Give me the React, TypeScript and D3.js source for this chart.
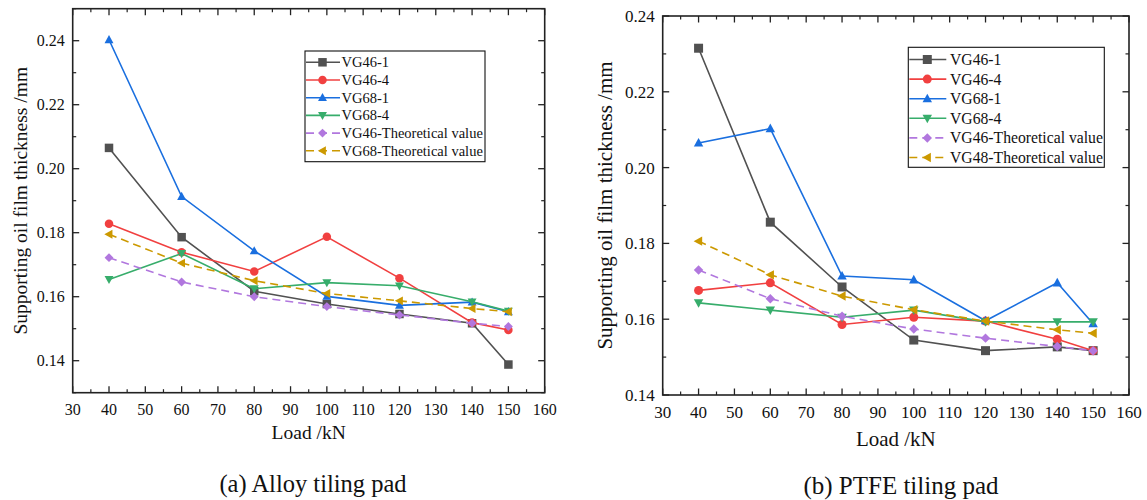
import React from "react";
import * as d3 from "d3";

const loads = [40, 60, 80, 100, 120, 140, 150];

const seriesNamesA = ["VG46-1", "VG46-4", "VG68-1", "VG68-4", "VG46-Theoretical value", "VG68-Theoretical value"];
const seriesNamesB = ["VG46-1", "VG46-4", "VG68-1", "VG68-4", "VG46-Theoretical value", "VG48-Theoretical value"];

// (a) Alloy tiling pad
const alloyVG46_1 = [0.2065, 0.1786, 0.1617, 0.1577, 0.1546, 0.1517, 0.1388];
const alloyVG46_4 = [0.1828, 0.1739, 0.1679, 0.1787, 0.1658, 0.1519, 0.1496];
const alloyVG68_1 = [0.2403, 0.1913, 0.1743, 0.1601, 0.1573, 0.1583, 0.1553];
const alloyVG68_4 = [0.1654, 0.1735, 0.1625, 0.1644, 0.1634, 0.1584, 0.1555];
const alloyVG46_T = [0.1722, 0.1646, 0.1600, 0.1569, 0.1543, 0.1517, 0.1507];
const alloyVG68_T = [0.1795, 0.1705, 0.1650, 0.1610, 0.1587, 0.1563, 0.1553];

// (b) PTFE tiling pad
const ptfeVG46_1 = [0.2315, 0.1856, 0.1685, 0.1545, 0.1517, 0.1527, 0.1517];
const ptfeVG46_4 = [0.1676, 0.1696, 0.1586, 0.1605, 0.1595, 0.1547, 0.1517];
const ptfeVG68_1 = [0.2065, 0.2103, 0.1714, 0.1704, 0.1596, 0.1696, 0.1588];
const ptfeVG68_4 = [0.1643, 0.1624, 0.1605, 0.1624, 0.1593, 0.1593, 0.1593];
const ptfeVG46_T = [0.1730, 0.1654, 0.1608, 0.1574, 0.1550, 0.1528, 0.1517];
const ptfeVG48_T = [0.1806, 0.1717, 0.1661, 0.1625, 0.1595, 0.1572, 0.1563];

const xTicks = [30, 40, 50, 60, 70, 80, 90, 100, 110, 120, 130, 140, 150, 160];
const xMinor = [35, 45, 55, 65, 75, 85, 95, 105, 115, 125, 135, 145, 155];
const yTicksA = [0.14, 0.16, 0.18, 0.2, 0.22, 0.24];
const yMinorA = [0.13, 0.15, 0.17, 0.19, 0.21, 0.23, 0.25];
const yTicksB = [0.14, 0.16, 0.18, 0.2, 0.22, 0.24];
const yMinorB = [0.15, 0.17, 0.19, 0.21, 0.23];

const colors = ["#515151", "#F14040", "#1A6FDF", "#37AD6B", "#B177DE", "#CC9900"];
const markers = ["square", "circle", "up", "down", "diamond", "left"];
const dashed = [false, false, false, false, true, true];

const FONT = "'Liberation Serif', 'Times New Roman', 'DejaVu Serif', serif";
const TS: React.CSSProperties = { fontFamily: FONT };

function markerPath(kind: string, s: number): string {
  const h = s / 2;
  switch (kind) {
    case "square":
      return `M${-h},${-h}H${h}V${h}H${-h}Z`;
    case "up":
      return `M0,${-h * 1.1}L${h * 1.05},${h * 0.8}L${-h * 1.05},${h * 0.8}Z`;
    case "down":
      return `M0,${h * 1.1}L${h * 1.05},${-h * 0.8}L${-h * 1.05},${-h * 0.8}Z`;
    case "left":
      return `M${-h * 1.1},0L${h * 0.8},${-h * 1.05}L${h * 0.8},${h * 1.05}Z`;
    case "diamond":
      return `M0,${-h * 1.05}L${h * 1.05},0L0,${h * 1.05}L${-h * 1.05},0Z`;
    default:
      return d3.symbol(d3.symbolCircle, Math.PI * h * h)() || "";
  }
}

function Marker({ kind, x, y, color, size }: any) {
  return <path d={markerPath(kind, size)} transform={`translate(${x},${y})`} fill={color} stroke="none" />;
}

interface PanelProps {
  left: number; right: number; top: number; bottom: number;
  yDomain: [number, number];
  yTicks: number[]; yMinor: number[];
  series: number[][]; names: string[];
  fs: number; legFs: number; titleFs: number; capFs: number;
  legend: { x: number; y: number; w: number; h: number; row0: number; dy: number; lineW: number; textX: number };
  yTitleX: number; xLabelY: number; xTitleY: number; caption: string; capX: number; capY: number;
  markerSize: number;
}

function Panel(p: PanelProps) {
  const x = d3.scaleLinear().domain([30, 160]).range([p.left, p.right]);
  const y = d3.scaleLinear().domain(p.yDomain).range([p.bottom, p.top]);
  const line = d3.line<number>().x((_, i) => x(loads[i])).y((d) => y(d));
  const axisColor = "#222";
  const majL = 6.5, minL = 3.5;
  const cy = (p.top + p.bottom) / 2;
  const lg = p.legend;
  return (
    <g fill="#111" style={TS}>
      {xTicks.map((t) => (
        <g key={"xt" + t}>
          <line x1={x(t)} x2={x(t)} y1={p.bottom} y2={p.bottom - majL} stroke={axisColor} strokeWidth={1.3} />
          <line x1={x(t)} x2={x(t)} y1={p.top} y2={p.top + majL} stroke={axisColor} strokeWidth={1.3} />
          <text x={x(t)} y={p.xLabelY} textAnchor="middle" fontSize={p.fs} style={TS}>{t}</text>
        </g>
      ))}
      {xMinor.map((t) => (
        <g key={"xm" + t}>
          <line x1={x(t)} x2={x(t)} y1={p.bottom} y2={p.bottom - minL} stroke={axisColor} strokeWidth={1.2} />
          <line x1={x(t)} x2={x(t)} y1={p.top} y2={p.top + minL} stroke={axisColor} strokeWidth={1.2} />
        </g>
      ))}
      {p.yTicks.map((t) => (
        <g key={"yt" + t}>
          <line x1={p.left} x2={p.left + majL} y1={y(t)} y2={y(t)} stroke={axisColor} strokeWidth={1.3} />
          <line x1={p.right} x2={p.right - majL} y1={y(t)} y2={y(t)} stroke={axisColor} strokeWidth={1.3} />
          <text x={p.left - 8} y={y(t)} dy="0.35em" textAnchor="end" fontSize={p.fs} style={TS}>{t.toFixed(2)}</text>
        </g>
      ))}
      {p.yMinor.map((t) => (
        <g key={"ym" + t}>
          <line x1={p.left} x2={p.left + minL} y1={y(t)} y2={y(t)} stroke={axisColor} strokeWidth={1.2} />
          <line x1={p.right} x2={p.right - minL} y1={y(t)} y2={y(t)} stroke={axisColor} strokeWidth={1.2} />
        </g>
      ))}
      <rect x={p.left} y={p.top} width={p.right - p.left} height={p.bottom - p.top} fill="none" stroke={axisColor} strokeWidth={1.6} />
      {p.series.map((s, i) => (
        <g key={"s" + i}>
          <path d={line(s) || ""} fill="none" stroke={colors[i]} strokeWidth={1.6} strokeDasharray={dashed[i] ? "8,5" : undefined} />
          {s.map((v, j) => (
            <Marker key={j} kind={markers[i]} x={x(loads[j])} y={y(v)} color={colors[i]} size={p.markerSize} />
          ))}
        </g>
      ))}
      <rect x={lg.x} y={lg.y} width={lg.w} height={lg.h} fill="white" stroke="#111" strokeWidth={1.1} />
      {p.names.map((n, i) => {
        const yy = lg.row0 + i * lg.dy;
        return (
          <g key={"l" + i}>
            <line x1={lg.x + 1} x2={lg.x + lg.lineW} y1={yy} y2={yy} stroke={colors[i]} strokeWidth={1.6} strokeDasharray={dashed[i] ? "8,5" : undefined} />
            <Marker kind={markers[i]} x={lg.x + lg.lineW / 2} y={yy} color={colors[i]} size={p.markerSize} />
            <text x={lg.textX} y={yy} dy="0.35em" fontSize={p.legFs} style={TS}>{n}</text>
          </g>
        );
      })}
      <text transform={`translate(${p.yTitleX},${cy}) rotate(-90)`} textAnchor="middle" dy="0.35em" fontSize={p.titleFs} style={TS}>
        Supporting oil film thickness /mm
      </text>
      <text x={(p.left + p.right) / 2} y={p.xTitleY} textAnchor="middle" fontSize={p.titleFs} style={TS}>Load /kN</text>
      <text x={p.capX} y={p.capY} textAnchor="middle" fontSize={p.capFs} style={TS}>{p.caption}</text>
    </g>
  );
}

export default function App() {
  return (
    <svg width={1147} height={500} style={{ display: "block", position: "absolute", left: 0, top: 0, background: "white", fontFamily: FONT }}>
      <rect x={0} y={0} width={1147} height={500} fill="white" />
      <Panel
        left={72.7} right={544.7} top={8.7} bottom={392.7}
        yDomain={[0.13, 0.25]} yTicks={yTicksA} yMinor={yMinorA}
        series={[alloyVG46_1, alloyVG46_4, alloyVG68_1, alloyVG68_4, alloyVG46_T, alloyVG68_T]}
        names={seriesNamesA}
        fs={16} legFs={14.5} titleFs={19.5} capFs={24.5}
        legend={{ x: 305, y: 51, w: 180, h: 110.7, row0: 62.3, dy: 17.7, lineW: 35, textX: 341.5 }}
        yTitleX={20} xLabelY={414.5} xTitleY={439} caption="(a) Alloy tiling pad" capX={313} capY={492}
        markerSize={8.5}
      />
      <Panel
        left={662.7} right={1129} top={16} bottom={395}
        yDomain={[0.14, 0.24]} yTicks={yTicksB} yMinor={yMinorB}
        series={[ptfeVG46_1, ptfeVG46_4, ptfeVG68_1, ptfeVG68_4, ptfeVG46_T, ptfeVG48_T]}
        names={seriesNamesB}
        fs={17} legFs={15.7} titleFs={21} capFs={25}
        legend={{ x: 908.3, y: 47.3, w: 196, h: 120, row0: 59.5, dy: 19.6, lineW: 38, textX: 950 }}
        yTitleX={605} xLabelY={417.5} xTitleY={446} caption="(b) PTFE tiling pad" capX={901} capY={494}
        markerSize={9}
      />
    </svg>
  );
}
